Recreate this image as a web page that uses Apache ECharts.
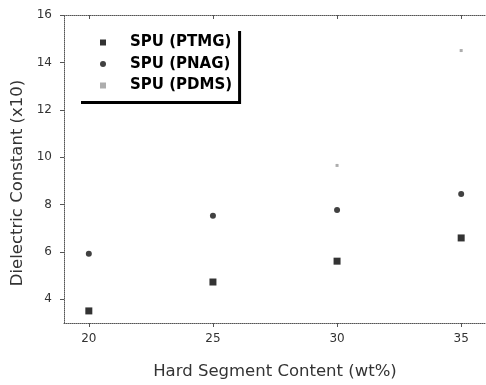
<!DOCTYPE html>
<html>
<head>
<meta charset="utf-8">
<script src="https://cdn.jsdelivr.net/npm/echarts@6/dist/echarts.min.js"></script>
<style>
  html, body { margin: 0; padding: 0; background: #fff; }
  #chart { width: 486px; height: 385px; }
</style>
</head>
<body>
<div id="chart"></div>
<script>
// Values
const hardSegment = [20, 25, 30, 35];
const ptmg = [3.51, 4.73, 5.61, 6.59];
const pnag = [5.92, 7.53, 7.77, 8.44];
const pdms = [null, null, 9.65, 14.5];
const xTicks = [20, 25, 30, 35];
const yTicks = [4, 6, 8, 10, 12, 14, 16];
const seriesNames = ["SPU (PTMG)", "SPU (PNAG)", "SPU (PDMS)"];

const FONT = "DejaVu Sans";
const AXIS_COLOR = "#555";

function pairs(ys) {
  return hardSegment
    .map((x, i) => [x, ys[i]])
    .filter((p) => p[1] !== null);
}

const chart = echarts.init(document.getElementById("chart"), null, { renderer: "canvas" });

const dottedLine = { show: true, lineStyle: { color: AXIS_COLOR, type: "dotted", width: 1 } };

chart.setOption({
  animation: false,
  backgroundColor: "#fff",
  grid: { left: 64, right: -5, top: 15, bottom: 56 },
  legend: {
    data: seriesNames,
    orient: "vertical",
    left: 78,
    top: 28,
    itemWidth: 6,
    itemHeight: 6,
    itemGap: 6.5,
    padding: [7, 6, 8, 22],
    backgroundColor: "#fff",
    shadowColor: "#000",
    shadowBlur: 0,
    shadowOffsetX: 3,
    shadowOffsetY: 3,
    textStyle: {
      fontFamily: FONT,
      fontWeight: "bold",
      fontSize: 15,
      lineHeight: 14,
      color: "#000",
      padding: [0, 0, 0, 19],
    },
  },
  xAxis: [
    {
      type: "value",
      position: "bottom",
      min: 19,
      max: 36,
      axisLine: dottedLine,
      axisTick: { show: true, customValues: xTicks, length: 4, lineStyle: { color: AXIS_COLOR } },
      axisLabel: { customValues: xTicks, fontFamily: FONT, fontSize: 12, color: "#333", margin: 10 },
      splitLine: { show: false },
      name: "Hard Segment Content (wt%)",
      nameLocation: "middle",
      nameGap: 40,
      nameTextStyle: { fontFamily: FONT, fontSize: 16.5, color: "#333" },
    },
    {
      type: "value",
      position: "top",
      min: 19,
      max: 36,
      axisLine: dottedLine,
      axisTick: { show: true, inside: true, customValues: xTicks, length: 4, lineStyle: { color: AXIS_COLOR } },
      axisLabel: { show: false },
      splitLine: { show: false },
    },
  ],
  yAxis: [
    {
      type: "value",
      position: "left",
      min: 3,
      max: 16,
      axisLine: dottedLine,
      axisTick: { show: true, customValues: yTicks, length: 4, lineStyle: { color: AXIS_COLOR } },
      axisLabel: { customValues: yTicks, fontFamily: FONT, fontSize: 12, color: "#333", margin: 12 },
      splitLine: { show: false },
      name: "Dielectric Constant (x10)",
      nameLocation: "middle",
      nameGap: 37,
      nameTextStyle: { fontFamily: FONT, fontSize: 16.5, color: "#333", padding: [0, 28, 0, 0] },
    },
  ],
  series: [
    {
      name: seriesNames[0],
      type: "scatter",
      symbol: "rect",
      symbolSize: 7,
      itemStyle: { color: "#000" },
      data: pairs(ptmg),
    },
    {
      name: seriesNames[1],
      type: "scatter",
      symbol: "circle",
      symbolSize: 6,
      itemStyle: { color: "#111" },
      data: pairs(pnag),
    },
    {
      name: seriesNames[2],
      type: "scatter",
      symbol: "rect",
      symbolSize: 3,
      itemStyle: { color: "#999" },
      data: pairs(pdms),
    },
  ],
});
</script>
</body>
</html>
